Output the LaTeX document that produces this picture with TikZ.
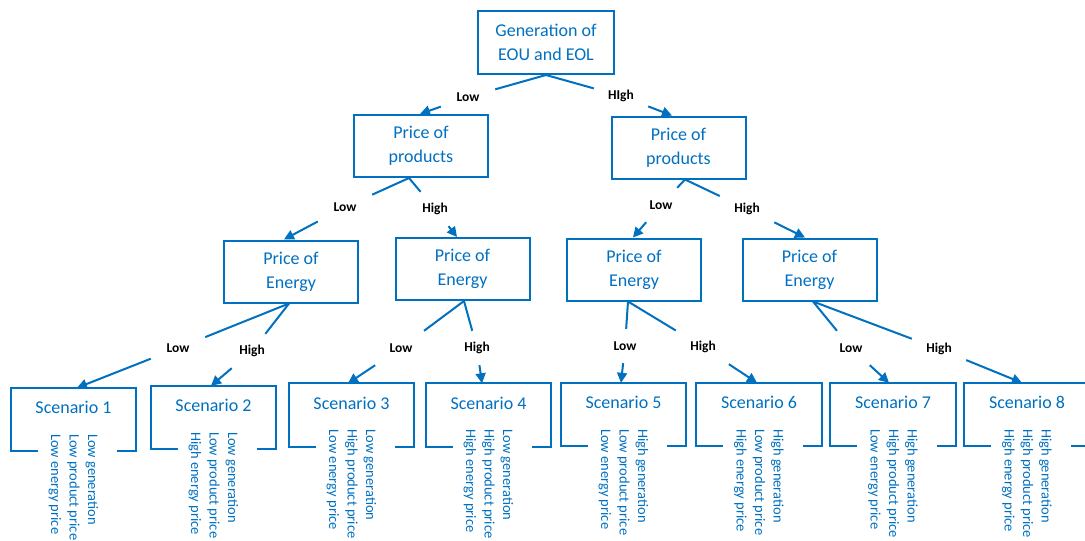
\documentclass[tikz,border=0pt]{standalone}
\usepackage{fontspec}
\setmainfont{Carlito}
\usetikzlibrary{arrows.meta}
\definecolor{cblue}{HTML}{0070C0}
\begin{document}
\begin{tikzpicture}[x=1pt,y=-1pt,
  box/.style={draw=cblue, line width=2pt, text=cblue, align=center, minimum width=134, minimum height=62, inner sep=0, font=\fontsize{18}{24}\selectfont},
  sbox/.style={minimum width=125, minimum height=63, inner sep=0},
  stitle/.style={text=cblue, font=\fontsize{18}{22}\selectfont, inner sep=0},
  vtext/.style={text=cblue, rotate=-90, anchor=west, align=left, inner sep=0, font=\fontsize{14.5}{18.5}\selectfont},
  lbl/.style={font=\fontsize{13.5}{16}\selectfont\bfseries, minimum width=54, minimum height=34, inner sep=0},
  conn/.style={draw=cblue, line width=2pt},
  arr/.style={conn, -{Triangle[length=10pt,width=10pt]}},
  sopen/.style={draw=cblue, line width=2pt}
]
\useasboundingbox (0,0) rectangle (1085,541);
% main boxes
\node[box, minimum width=136, minimum height=63] (t) at (546,42.5) {Generation of\\EOU and EOL};
\node[box] (p1) at (421,146) {Price of\\products};
\node[box] (p2) at (678.5,147.5) {Price of\\products};
\node[box] (e1) at (291,271.5) {Price of\\Energy};
\node[box] (e2) at (462.5,269) {Price of\\Energy};
\node[box] (e3) at (634,269.5) {Price of\\Energy};
\node[box] (e4) at (809.5,269.5) {Price of\\Energy};
% scenario boxes
\node[sbox] (s1) at (73.5,419.5) {};
\node[sbox] (s2) at (213.5,417.5) {};
\node[sbox] (s3) at (351.5,415) {};
\node[sbox] (s4) at (488.5,415) {};
\node[sbox] (s5) at (623.5,414.5) {};
\node[sbox] (s6) at (759,414.5) {};
\node[sbox] (s7) at (893,414.5) {};
\node[sbox] (s8) at (1027,414.5) {};
\foreach \i in {1,...,8} {
  \draw[sopen] ([xshift=27]s\i.south west) -- (s\i.south west) -- (s\i.north west) -- (s\i.north east) -- (s\i.south east) -- ([xshift=-19]s\i.south east);
  \node[stitle] (st\i) at ([yshift=-20]s\i.north) {Scenario \i};
}
\node[vtext] (v1) at ([yshift=-46]s1.north) {Low generation\\Low product price\\Low energy price};
\node[vtext] (v2) at ([yshift=-46]s2.north) {Low generation\\Low product price\\High energy price};
\node[vtext] (v3) at ([yshift=-46]s3.north) {Low generation\\High product price\\Low energy price};
\node[vtext] (v4) at ([yshift=-46]s4.north) {Low generation\\High product price\\High energy price};
\node[vtext] (v5) at ([yshift=-46]s5.north) {High generation\\Low product price\\Low energy price};
\node[vtext] (v6) at ([yshift=-46]s6.north) {High generation\\Low product price\\High energy price};
\node[vtext] (v7) at ([yshift=-46]s7.north) {High generation\\High product price\\Low energy price};
\node[vtext] (v8) at ([yshift=-46]s8.north) {High generation\\High product price\\High energy price};
% labels
\node[lbl] (la) at (468,97) {Low};
\node[lbl] (ha) at (621,96) {HIgh};
\node[lbl] (lb1) at (345,207) {Low};
\node[lbl] (hb1) at (435,209) {High};
\node[lbl] (lb2) at (661,205) {Low};
\node[lbl] (hb2) at (747,209) {High};
\node[lbl] (lc1) at (178,348) {Low};
\node[lbl] (hc1) at (252,351) {High};
\node[lbl] (lc2) at (401,348) {Low};
\node[lbl] (hc2) at (477,348) {High};
\node[lbl] (lc3) at (625,346) {Low};
\node[lbl] (hc3) at (703,347) {High};
\node[lbl] (lc4) at (851,348) {Low};
\node[lbl] (hc4) at (939,349) {High};
% connectors level 1
\draw[conn] (t.south) -- (la);
\draw[arr] (la) -- ([xshift=-1]p1.north);
\draw[conn] (t.south) -- (ha);
\draw[arr] (ha) -- ([xshift=-6.5]p2.north);
% level 2
\draw[conn] ([xshift=-12]p1.south) -- (lb1);
\draw[arr] (lb1) -- ([xshift=-7]e1.north);
\draw[conn] ([xshift=-12]p1.south) -- (hb1);
\draw[arr] (hb1) -- ([xshift=-5.5]e2.north);
\draw[conn] ([xshift=6.5]p2.south) -- (lb2);
\draw[arr] (lb2) -- ([xshift=-1]e3.north);
\draw[conn] ([xshift=6.5]p2.south) -- (hb2);
\draw[arr] (hb2) -- ([xshift=-4.5]e4.north);
% level 3
\draw[conn] ([xshift=-2]e1.south) -- (lc1);
\draw[arr] (lc1) -- ([xshift=3.5]s1.north);
\draw[conn] ([xshift=-2]e1.south) -- (hc1);
\draw[arr] (hc1) -- ([xshift=-2.5]s2.north);
\draw[conn] ([xshift=1.5]e2.south) -- (lc2);
\draw[arr] (lc2) -- ([xshift=-3.5]s3.north);
\draw[conn] ([xshift=1.5]e2.south) -- (hc2);
\draw[arr] (hc2) -- ([xshift=-6.5]s4.north);
\draw[conn] ([xshift=-6]e3.south) -- (lc3);
\draw[arr] (lc3) -- ([xshift=-2.5]s5.north);
\draw[conn] ([xshift=-6]e3.south) -- (hc3);
\draw[arr] (hc3) -- ([xshift=-2]s6.north);
\draw[conn] ([xshift=3.5]e4.south) -- (lc4);
\draw[arr] (lc4) -- ([xshift=-4]s7.north);
\draw[conn] ([xshift=3.5]e4.south) -- (hc4);
\draw[arr] (hc4) -- ([xshift=-5]s8.north);
\end{tikzpicture}
\end{document}
